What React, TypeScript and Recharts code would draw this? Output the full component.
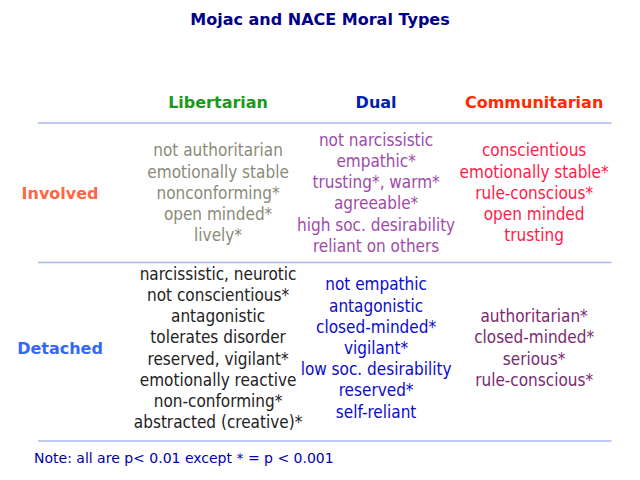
import React from "react";
import { ScatterChart, Scatter, XAxis, YAxis, ReferenceLine } from "recharts";

const columns = ["Libertarian", "Dual", "Communitarian"];
const rows = ["Involved", "Detached"];
const involvedCells = [
  ["not authoritarian", "emotionally stable", "nonconforming*", "open minded*", "lively*"],
  ["not narcissistic", "empathic*", "trusting*, warm*", "agreeable*", "high soc. desirability", "reliant on others"],
  ["conscientious", "emotionally stable*", "rule-conscious*", "open minded", "trusting"],
];
const detachedCells = [
  ["narcissistic, neurotic", "not conscientious*", "antagonistic", "tolerates disorder", "reserved, vigilant*", "emotionally reactive", "non-conforming*", "abstracted (creative)*"],
  ["not empathic", "antagonistic", "closed-minded*", "vigilant*", "low soc. desirability", "reserved*", "self-reliant"],
  ["authoritarian*", "closed-minded*", "serious*", "rule-conscious*"],
];
const rowBoundaries = [0.55, 1.45, 2.6];

const headerColors = ["#1a9a1a", "#0022b0", "#ff2a00"];
const rowColors = ["#ff6644", "#3366ff"];
const cellColors = [
  ["#8a8a78", "#a04aa8", "#ff1a4a"],
  ["#222222", "#0a0ad0", "#7a2a70"],
];

const FONT = "Tahoma, 'DejaVu Sans', sans-serif";
const CELL_FONT = "'DejaVu Sans Condensed', 'DejaVu Sans', sans-serif";

const data: any[] = [];
rows.forEach((r, ri) => {
  data.push({ x: 0, y: ri + 1, lines: [r], color: rowColors[ri], bold: true });
  const cells = ri === 0 ? involvedCells : detachedCells;
  cells.forEach((c, ci) => {
    data.push({ x: ci + 1, y: ri + 1, lines: c, color: cellColors[ri][ci], bold: false });
  });
});

const CellShape = (props: any) => {
  const { cx, cy, payload } = props;
  const lh = 21.2;
  const n = payload.lines.length;
  const start = cy - ((n - 1) * lh) / 2 + 6;
  return (
    <text
      x={cx}
      textAnchor="middle"
      fill={payload.color}
      fontFamily={payload.bold ? FONT : CELL_FONT}
      fontSize={payload.bold ? 16 : 17}
      fontWeight={payload.bold ? "bold" : "normal"}
    >
      {payload.lines.map((l: string, i: number) => (
        <tspan key={i} x={cx} y={start + i * lh}>
          {l}
        </tspan>
      ))}
    </text>
  );
};

const HeaderTick = (props: any) => {
  const { x, payload } = props;
  const i = Math.round(payload.value) - 1;
  if (i < 0 || i > 2) return null;
  return (
    <text x={x} y={108} textAnchor="middle" fill={headerColors[i]} fontFamily={FONT} fontSize={16} fontWeight="bold">
      {columns[i]}
    </text>
  );
};

export default function App() {
  return (
    <div style={{ position: "absolute", left: 0, top: 0, width: 640, height: 480, background: "#fff" }}>
      <div style={{ position: "absolute", top: 10, width: 640, textAlign: "center", fontFamily: FONT, fontWeight: "bold", fontSize: 16, color: "#000088" }}>
        Mojac and NACE Moral Types
      </div>
      <ScatterChart width={640} height={480} margin={{ top: 93, right: 0, bottom: 39, left: 0 }}>
        <XAxis
          type="number"
          dataKey="x"
          orientation="top"
          domain={[-0.38, 3.67]}
          ticks={[1, 2, 3]}
          tick={<HeaderTick />}
          axisLine={false}
          tickLine={false}
          height={30}
          allowDataOverflow
        />
        <YAxis type="number" dataKey="y" reversed domain={[0.55, 2.6]} hide allowDataOverflow />
        {rowBoundaries.map((b) => (
          <ReferenceLine
            key={b}
            segment={[{ x: -0.14, y: b }, { x: 3.49, y: b }]}
            stroke="#a8b8f0"
            strokeWidth={1.5}
            ifOverflow="extendDomain"
          />
        ))}
        <Scatter data={data} shape={<CellShape />} isAnimationActive={false} />
      </ScatterChart>
      <div style={{ position: "absolute", top: 450, left: 34, fontFamily: FONT, fontSize: 14, color: "#0000aa" }}>
        Note: all are p&lt; 0.01 except * = p &lt; 0.001
      </div>
    </div>
  );
}
